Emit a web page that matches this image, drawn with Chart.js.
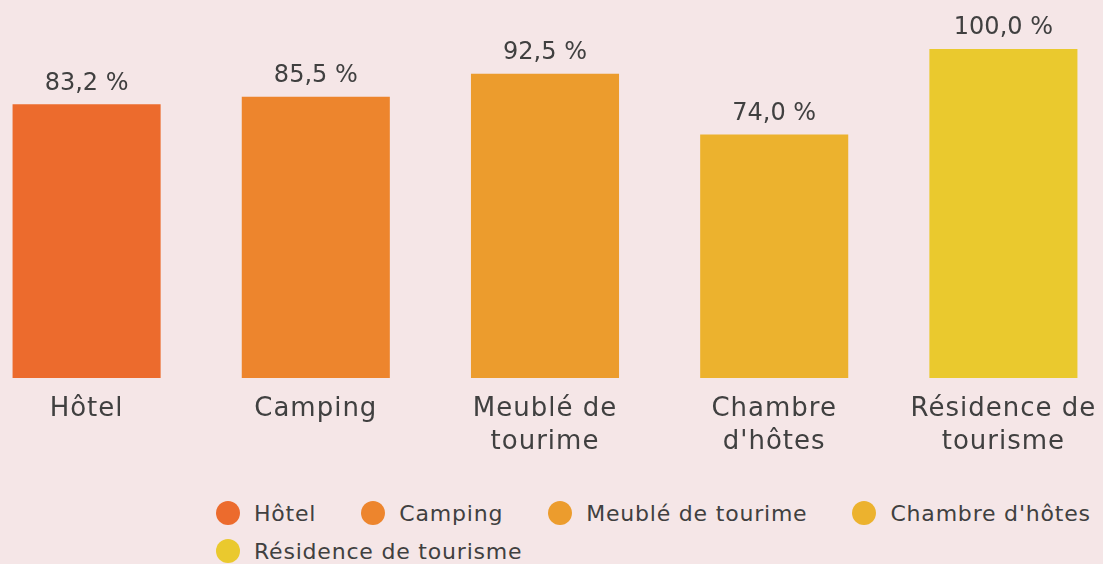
<!DOCTYPE html>
<html><head><meta charset="utf-8">
<script src="https://cdn.jsdelivr.net/npm/chart.js@4/dist/chart.umd.min.js"></script>
<style>
html,body{margin:0;padding:0;background:#F5E6E7;width:1103px;height:564px;overflow:hidden;font-family:"DejaVu Sans",sans-serif;}
#wrap{position:absolute;left:-28px;top:0;width:1146px;height:473px;}
#legend{position:absolute;left:216px;top:494px;color:#404040;font-size:22px;width:900px;letter-spacing:0.8px;}
.row{display:flex;height:38px;align-items:center;white-space:nowrap;}
.item{display:flex;align-items:center;margin-right:45px;flex:none;white-space:nowrap;}
.dot{width:24px;height:24px;border-radius:50%;margin-right:14px;flex:none;}
</style></head>
<body>
<div id="wrap"><canvas id="c"></canvas></div>
<div id="legend"></div>
<script>
const categories = [["Hôtel"],["Camping"],["Meublé de","tourime"],["Chambre","d'hôtes"],["Résidence de","tourisme"]];
const legendLabels = ["Hôtel","Camping","Meublé de tourime","Chambre d'hôtes","Résidence de tourisme"];
const values = [83.2, 85.5, 92.5, 74.0, 100.0];
const colors = ["#EC6B2D","#ED852D","#EC9C2D","#ECB22E","#EAC92E"];

const spacing = {
  id:'spacing',
  beforeDraw(chart){ chart.ctx.letterSpacing = '1px'; },
  beforeDatasetsDraw(chart){ chart.ctx.letterSpacing = '0px'; }
};

const valueLabels = {
  id:'valueLabels',
  afterDatasetsDraw(chart){
    const ctx = chart.ctx;
    const meta = chart.getDatasetMeta(0);
    ctx.save();
    ctx.letterSpacing = '0px';
    ctx.font = '24px "DejaVu Sans"';
    ctx.fillStyle = '#404040';
    ctx.textAlign = 'center';
    ctx.textBaseline = 'middle';
    meta.data.forEach((bar,i)=>{
      ctx.fillText(values[i].toFixed(1).replace('.',',')+' %', bar.x, bar.y-21);
    });
    ctx.restore();
  }
};

new Chart(document.getElementById('c'),{
  type:'bar',
  data:{labels:categories,datasets:[{data:values,backgroundColor:colors,categoryPercentage:1,barPercentage:0.646}]},
  options:{
    responsive:true,maintainAspectRatio:false,animation:false,
    layout:{padding:{top:49,left:0,right:0,bottom:0}},
    plugins:{legend:{display:false},tooltip:{enabled:false}},
    scales:{
      x:{grid:{display:false,drawTicks:false},border:{display:false},
         ticks:{color:'#404040',font:{family:'DejaVu Sans',size:26,lineHeight:1.25},padding:15,maxRotation:0,autoSkip:false}},
      y:{display:false,min:0,max:100}
    }
  },
  plugins:[spacing,valueLabels]
});

const lg = document.getElementById('legend');
[[0,1,2,3],[4]].forEach(r=>{
  const row=document.createElement('div');row.className='row';
  r.forEach(i=>{
    const it=document.createElement('div');it.className='item';
    const d=document.createElement('span');d.className='dot';d.style.background=colors[i];
    const t=document.createElement('span');t.textContent=legendLabels[i];
    it.appendChild(d);it.appendChild(t);row.appendChild(it);
  });
  lg.appendChild(row);
});
</script>
</body></html>
